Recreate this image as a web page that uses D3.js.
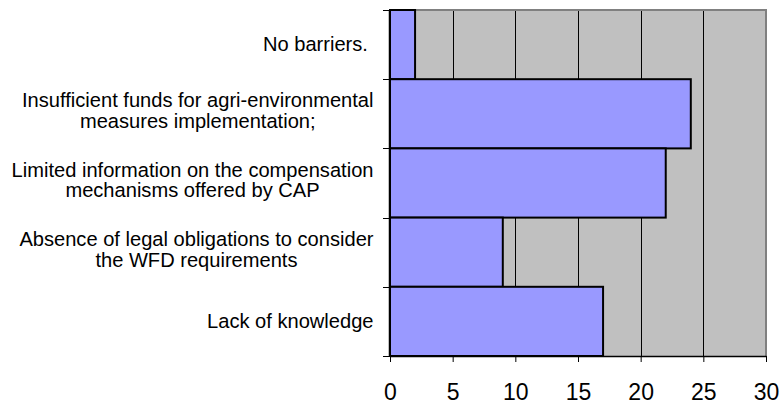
<!DOCTYPE html>
<html>
<head>
<meta charset="utf-8">
<script src="https://cdn.jsdelivr.net/npm/d3@7"></script>
<style>
  html, body { margin: 0; padding: 0; background: #ffffff; }
  svg { display: block; font-family: "Liberation Sans", Arial, sans-serif; }
</style>
</head>
<body>
<svg id="chart" width="781" height="404"></svg>
<script>
// ---- data ----
const categories = [
  ["No barriers. "],
  ["Insufficient funds for agri-environmental", "measures implementation;"],
  ["Limited information on the compensation", "mechanisms offered by CAP"],
  ["Absence of legal obligations to consider", "the WFD requirements"],
  ["Lack of knowledge"]
];
const values = [2, 24, 22, 9, 17];
const xTicks = [0, 5, 10, 15, 20, 25, 30];

// ---- layout ----
const svg = d3.select("#chart");
const pLeft = 390, pRight = 766, pTop = 10, pBottom = 356;

const x = d3.scaleLinear().domain([0, 30]).range([pLeft, pRight]);
const y = d3.scaleBand().domain(d3.range(categories.length)).range([pTop, pBottom]).padding(0);

// plot background
svg.append("rect")
  .attr("x", pLeft).attr("y", pTop)
  .attr("width", pRight - pLeft).attr("height", pBottom - pTop)
  .attr("fill", "#C0C0C0");

// vertical gridlines
svg.append("g").selectAll("line")
  .data(xTicks.filter(d => d > 0 && d < 30))
  .join("line")
  .attr("x1", d => Math.round(x(d)) + 0.5).attr("x2", d => Math.round(x(d)) + 0.5)
  .attr("y1", pTop).attr("y2", pBottom)
  .attr("stroke", "#000").attr("stroke-width", 1);

// plot border (top and right gray)
svg.append("path")
  .attr("d", `M${pLeft},${pTop}H${pRight}V${pBottom}`)
  .attr("fill", "none").attr("stroke", "#808080").attr("stroke-width", 2);

// bars
svg.append("g").selectAll("rect")
  .data(values)
  .join("rect")
  .attr("x", x(0))
  .attr("y", (d, i) => y(i))
  .attr("width", d => x(d) - x(0))
  .attr("height", y.bandwidth())
  .attr("fill", "#9999FF")
  .attr("stroke", "#000")
  .attr("stroke-width", 2);

// x axis
const xAxis = d3.axisBottom(x).tickValues(xTicks).tickSize(6).tickSizeOuter(0);
const gx = svg.append("g").attr("transform", `translate(0,${pBottom})`).call(xAxis);
gx.select(".domain").attr("stroke", "#000").attr("stroke-width", 1.5);
gx.selectAll(".tick line").attr("stroke", "#000").attr("stroke-width", 1);
gx.selectAll(".tick text")
  .attr("font-family", "'Liberation Sans', Arial, sans-serif")
  .attr("font-size", "23px").attr("fill", "#000")
  .attr("dy", null).attr("y", 44);

// y axis line + ticks at band boundaries
const boundaries = d3.range(categories.length + 1).map(i => i < categories.length ? y(i) : y(categories.length - 1) + y.bandwidth());
svg.append("line")
  .attr("x1", pLeft - 0.5).attr("x2", pLeft - 0.5)
  .attr("y1", pTop).attr("y2", pBottom)
  .attr("stroke", "#000").attr("stroke-width", 1.5);
svg.append("g").selectAll("line")
  .data(boundaries)
  .join("line")
  .attr("x1", pLeft - 7).attr("x2", pLeft)
  .attr("y1", d => Math.round(d) + 0.5).attr("y2", d => Math.round(d) + 0.5)
  .attr("stroke", "#000").attr("stroke-width", 1);

// category labels
const labelRight = 373.5;
const lg = svg.append("g");
categories.forEach((lines, i) => {
  const c = y(i) + y.bandwidth() / 2;
  const t = lg.append("text")
    .attr("font-size", "20.1px")
    .attr("fill", "#000")
    .attr("text-anchor", "middle")
    .style("white-space", "pre");
  const baselines = lines.length === 1 ? [c + 6.5] : [c - 6.5, c + 14.3];
  const spans = lines.map((ln, k) => t.append("tspan").attr("y", baselines[k]).text(ln));
  let maxW = 0;
  spans.forEach(s => { maxW = Math.max(maxW, s.node().getComputedTextLength()); });
  spans.forEach(s => s.attr("x", labelRight - maxW / 2));
});
</script>
</body>
</html>
